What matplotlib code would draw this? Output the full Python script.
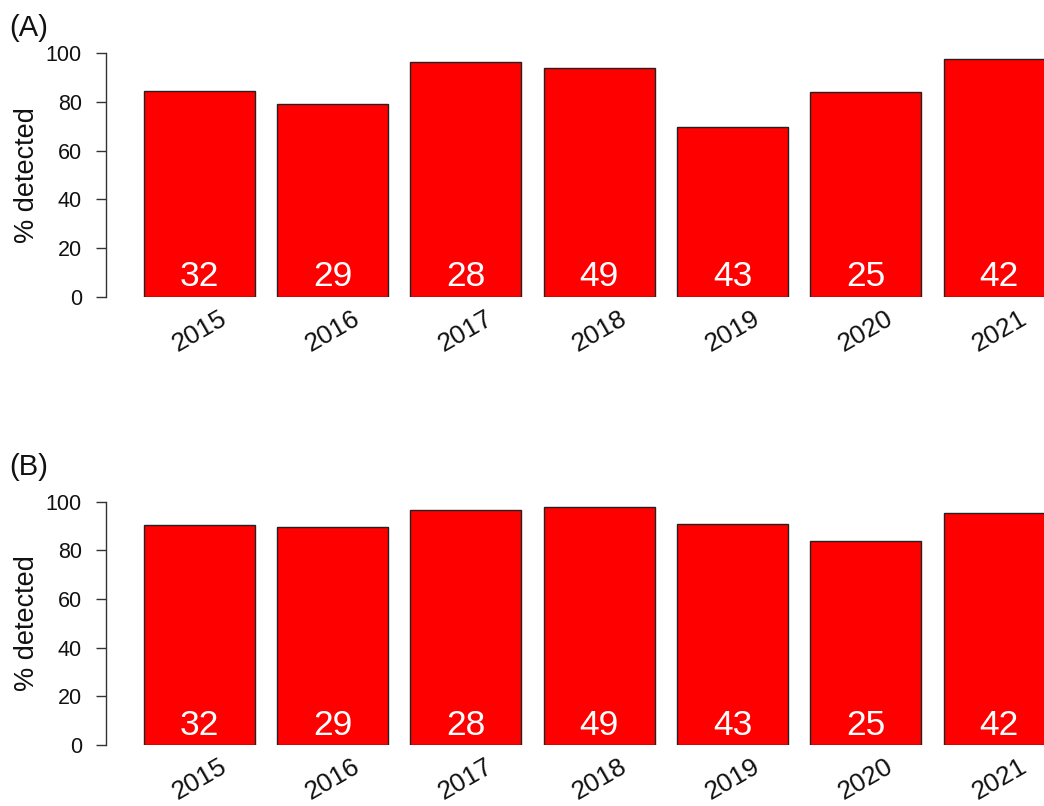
import matplotlib
matplotlib.use("Agg")
import matplotlib.pyplot as plt

plt.rcParams["font.family"] = ["Liberation Sans", "DejaVu Sans"]

# Detection rates by year, with the number of samples tested each year
years = ["2015", "2016", "2017", "2018", "2019", "2020", "2021"]
n_tested = [32, 29, 28, 49, 43, 25, 42]
pct_detected_a = [84.4, 79.3, 96.4, 93.9, 69.8, 84.0, 97.6]
pct_detected_b = [90.6, 89.7, 96.4, 98.0, 90.7, 84.0, 95.2]
panel_titles = ["(A)", "(B)"]

W, H = 1044, 806
fig = plt.figure(figsize=(W / 100, H / 100), dpi=100)

# bar layout in the style of a base-R barplot: width 1, space 0.2
width = 1.0
space = 0.2
centers = [space + width / 2 + i * (width + space) for i in range(len(years))]
x_left = space - 0.04 * (len(years) * (width + space))
px_per_unit = 111.1
axis_px = 106.3


def draw_panel(values, zero_px, top_px, title, title_xy):
    x_right = x_left + (W + 80 - axis_px) / px_per_unit
    ax = fig.add_axes([axis_px / W, 1 - zero_px / H,
                       (W + 80 - axis_px) / W, (zero_px - top_px) / H])
    ax.bar(centers, values, width=width, color="#ff0000",
           edgecolor="#222222", linewidth=1.0)
    ax.set_xlim(x_left, x_right)
    ax.set_ylim(0, 100)
    for side in ("top", "right", "bottom"):
        ax.spines[side].set_visible(False)
    ax.spines["left"].set_bounds(0, 100)
    ax.spines["left"].set_color("#333333")
    ax.spines["left"].set_linewidth(1.0)
    ax.set_yticks([0, 20, 40, 60, 80, 100])
    ax.tick_params(axis="y", length=7.5, width=1.0, color="#333333",
                   labelsize=15.5, pad=10, labelcolor="#111111")
    ax.set_xticks(centers, years)
    ax.tick_params(axis="x", length=0, pad=25, labelsize=19,
                   labelcolor="#111111")
    for lab in ax.get_xticklabels():
        lab.set_rotation(30)
        lab.set_rotation_mode("anchor")
        lab.set_ha("center")
        lab.set_va("center")
    for c, n in zip(centers, n_tested):
        ax.text(c, 4.2, str(n), ha="center", va="baseline",
                color="white", fontsize=25.5)
    fig.text(27 / W, 1 - (zero_px + top_px) / 2 / H, "% detected",
             rotation=90, ha="center", va="center", fontsize=19.5,
             color="#111111")
    fig.text(title_xy[0] / W, 1 - title_xy[1] / H, title,
             ha="center", va="center", fontsize=21, color="#111111")
    return ax


draw_panel(pct_detected_a, 296.7, 53.4, panel_titles[0], (28.5, 28))
draw_panel(pct_detected_b, 745.0, 501.7, panel_titles[1], (28.5, 467))

fig.savefig("out.png", dpi=100)
